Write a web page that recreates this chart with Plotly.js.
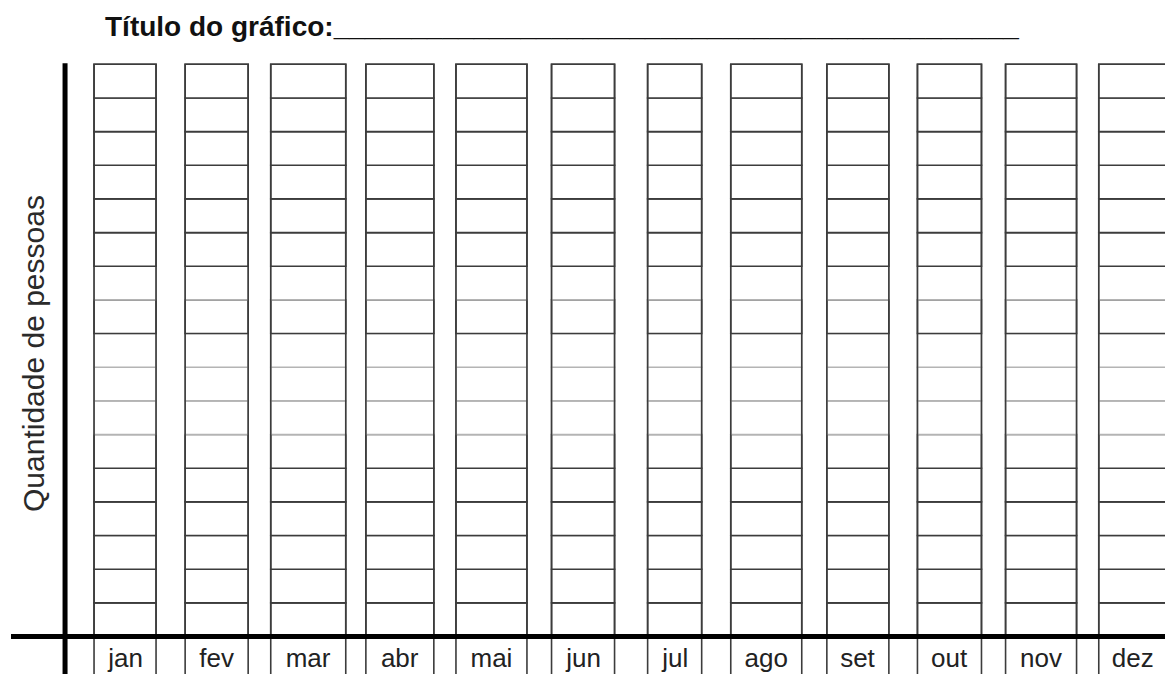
<!DOCTYPE html>
<html>
<head>
<meta charset="utf-8">
<script src="https://cdn.plot.ly/plotly-3.0.1.min.js"></script>
<style>
  html, body { margin: 0; padding: 0; background: #ffffff; }
  #chart { width: 1165px; height: 674px; }
</style>
</head>
<body>
<div id="chart"></div>
<script>
// ---------------- DATA ----------------
const months = ['jan', 'fev', 'mar', 'abr', 'mai', 'jun', 'jul', 'ago', 'set', 'out', 'nov', 'dez'];
// number of empty cells (one per person) stacked in each month's column
const cellsPerColumn = [17, 17, 17, 17, 17, 17, 17, 17, 17, 17, 17, 17];
const chartTitle = 'Título do gráfico:';
const yAxisTitle = 'Quantidade de pessoas';

// ---------------- STYLE ----------------
const FONT = 'Liberation Sans, Arial, Helvetica, sans-serif';
const LINE_DARK = '#3c3c3c';
const LINE_LIGHT = '#b4b4b4';
const CELL_LINE_W = 1.6;
// column widths (category units) as drawn on the worksheet
const colWidths = [0.677, 0.688, 0.819, 0.742, 0.775, 0.688, 0.590, 0.775, 0.677, 0.699, 0.775, 0.74];
// cell boundaries printed lighter on the sheet
const lightBoundaries = [6, 7, 8, 10];
const LABEL_ROW = 1.3; // height of the label row below the axis (grid units)

const maxCells = Math.max(...cellsPerColumn);
const traces = [];

// label row under the axis
traces.push({
  type: 'bar',
  x: months,
  y: months.map(() => LABEL_ROW),
  base: months.map(() => -LABEL_ROW),
  width: colWidths,
  text: months,
  textposition: 'inside',
  insidetextanchor: 'middle',
  textangle: 0,
  constraintext: 'none',
  textfont: { family: FONT, size: 26, color: '#222222' },
  marker: { color: '#ffffff', line: { color: LINE_DARK, width: CELL_LINE_W } },
  hoverinfo: 'skip',
  showlegend: false
});

// empty cells, one trace per row
for (let r = 0; r < maxCells; r++) {
  traces.push({
    type: 'bar',
    x: months,
    y: cellsPerColumn.map(n => (r < n ? 1 : 0)),
    base: months.map(() => r),
    width: colWidths,
    marker: {
      color: '#ffffff',
      line: { color: lightBoundaries.includes(r) ? LINE_LIGHT : LINE_DARK, width: CELL_LINE_W }
    },
    hoverinfo: 'skip',
    showlegend: false
  });
}

// column frames drawn on top
traces.push({
  type: 'bar',
  x: months,
  y: cellsPerColumn,
  base: months.map(() => 0),
  width: colWidths,
  marker: { color: 'rgba(0,0,0,0)', line: { color: LINE_DARK, width: CELL_LINE_W } },
  hoverinfo: 'skip',
  showlegend: false
});

const W = 1165, H = 674;
const layout = {
  width: W,
  height: H,
  autosize: false,
  paper_bgcolor: '#ffffff',
  plot_bgcolor: '#ffffff',
  margin: { l: 11, r: 0, t: 60, b: 0, pad: 0 },
  barmode: 'overlay',
  showlegend: false,
  title: {
    text: '<b>' + chartTitle + '____________________________________________</b>',
    font: { family: FONT, size: 28, color: '#111111' },
    xref: 'container',
    yref: 'container',
    x: 105 / W,
    xanchor: 'left',
    y: 1 - 26 / H,
    yanchor: 'middle'
  },
  xaxis: {
    type: 'category',
    range: [-1.245, 11.353],
    showgrid: false,
    zeroline: false,
    showline: false,
    showticklabels: false,
    ticks: '',
    fixedrange: true
  },
  yaxis: {
    range: [-1.114, 17.127],
    showgrid: false,
    zeroline: false,
    showline: false,
    showticklabels: false,
    ticks: '',
    fixedrange: true
  },
  shapes: [
    // horizontal axis (crossing through the full width)
    { type: 'line', xref: 'paper', x0: 0, x1: 1, yref: 'y', y0: 0, y1: 0,
      line: { color: '#000000', width: 5 }, layer: 'above' },
    // vertical axis
    { type: 'line', xref: 'x', x0: -0.655, x1: -0.655, yref: 'y', y0: maxCells + 0.03, y1: -3,
      line: { color: '#000000', width: 5 }, layer: 'above' }
  ],
  annotations: [
    {
      text: yAxisTitle,
      xref: 'paper', yref: 'paper',
      x: (33 - 11) / (W - 11), y: (H - 354) / (H - 60),
      xanchor: 'center', yanchor: 'middle',
      textangle: -90,
      showarrow: false,
      font: { family: FONT, size: 30, color: '#2a2a2a' }
    }
  ]
};

Plotly.newPlot('chart', traces, layout, { staticPlot: true, displayModeBar: false });
</script>
</body>
</html>
